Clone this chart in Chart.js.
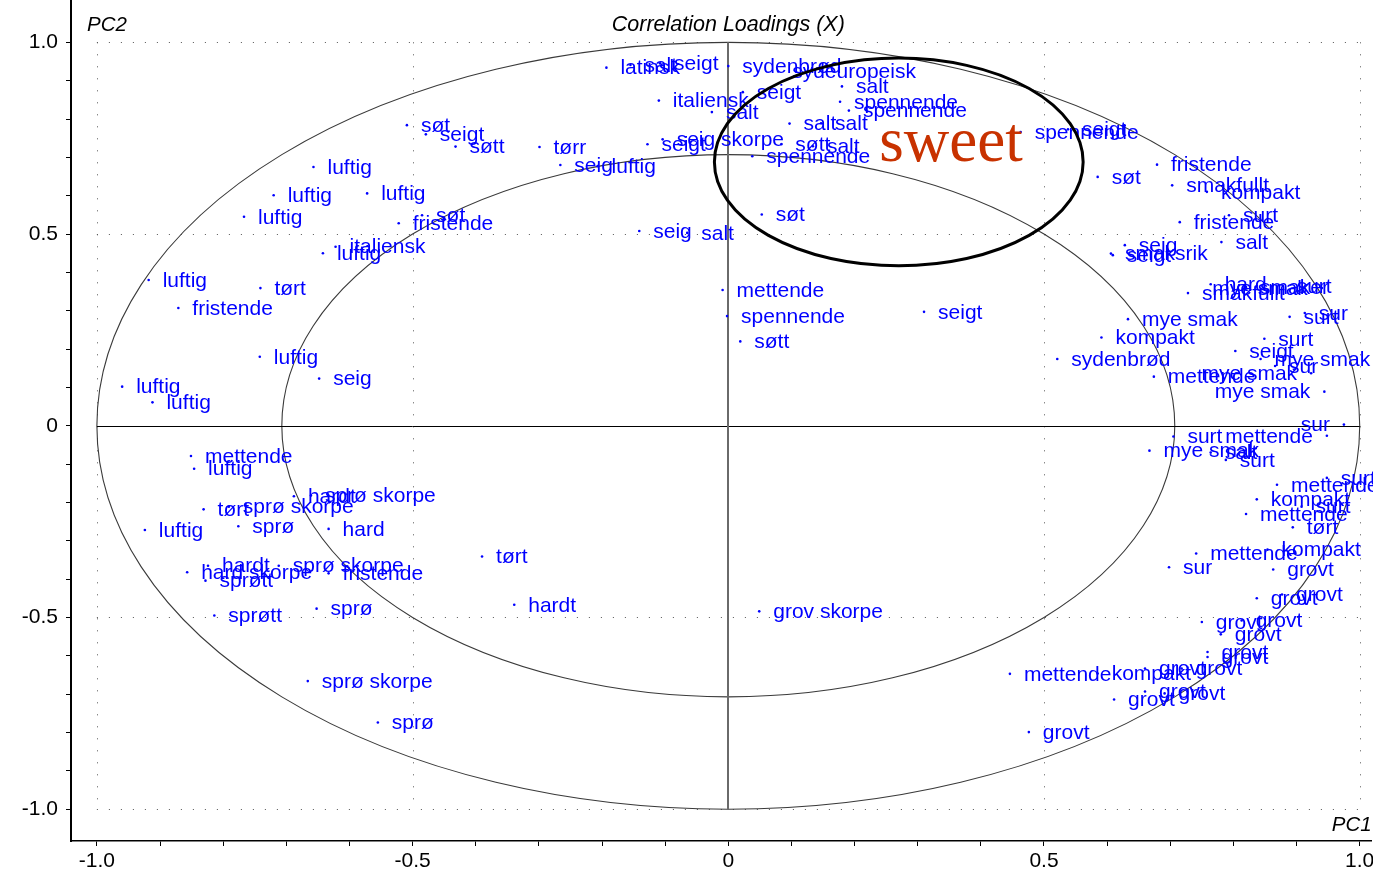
<!DOCTYPE html>
<html lang="en">
<head>
  <meta charset="UTF-8">
  <title>Correlation Loadings (X)</title>
  <script src="https://cdn.jsdelivr.net/npm/chart.js"></script>
  <style>
    body {
      margin: 0;
      background-color: #ffffff;
    }

    canvas {
      display: block;
    }
  </style>
</head>
<body>
  <canvas id="loadings" width="1373" height="873"></canvas>

  <script>
    // [term, PC1, PC2], grouped by area
    const upperLeft = [
      ['søt', -0.509, 0.784], ['seigt', -0.479, 0.760], ['søtt', -0.432, 0.728],
      ['luftig', -0.657, 0.675], ['luftig', -0.720, 0.601], ['luftig', -0.572, 0.606],
      ['luftig', -0.767, 0.545], ['søt', -0.485, 0.549], ['fristende', -0.522, 0.528],
      ['italiensk', -0.622, 0.467], ['luftig', -0.642, 0.450], ['luftig', -0.918, 0.380],
      ['tørt', -0.741, 0.359], ['fristende', -0.871, 0.307], ['luftig', -0.742, 0.180],
      ['seig', -0.648, 0.123], ['luftig', -0.960, 0.102], ['luftig', -0.912, 0.061]
    ];

    const lowerLeft = [
      ['mettende', -0.851, -0.079], ['luftig', -0.846, -0.112], ['hardt', -0.688, -0.184],
      ['sprø skorpe', -0.661, -0.182], ['tørt', -0.831, -0.218], ['sprø skorpe', -0.791, -0.211],
      ['sprø', -0.776, -0.262], ['luftig', -0.924, -0.272], ['hard', -0.633, -0.269],
      ['tørt', -0.390, -0.341], ['hard skorpe', -0.857, -0.382], ['hardt', -0.824, -0.365],
      ['sprøtt', -0.828, -0.404], ['sprø skorpe', -0.712, -0.365], ['fristende', -0.633, -0.385],
      ['sprøtt', -0.814, -0.495], ['sprø', -0.652, -0.477], ['sprø skorpe', -0.666, -0.666],
      ['sprø', -0.555, -0.774], ['hardt', -0.339, -0.467], ['grov skorpe', 0.049, -0.484]
    ];

    const middle = [
      ['mettende', -0.009, 0.354], ['spennende', -0.002, 0.286], ['søtt', 0.019, 0.220],
      ['seigt', 0.310, 0.297]
    ];

    const upperMiddle = [
      ['latinsk', -0.193, 0.934], ['salt', -0.155, 0.941], ['seigt', -0.108, 0.945],
      ['sydenbrød', 0.000, 0.938], ['sydeuropeisk', 0.079, 0.924], ['italiensk', -0.110, 0.848],
      ['salt', -0.026, 0.818], ['seigt', 0.023, 0.870], ['salt', 0.180, 0.885],
      ['spennende', 0.177, 0.845], ['spennende', 0.191, 0.822], ['salt', 0.097, 0.788],
      ['salt', 0.147, 0.789], ['tørr', -0.299, 0.727], ['seigt', -0.128, 0.734],
      ['seig skorpe', -0.104, 0.747], ['seig', -0.266, 0.680], ['luftig', -0.207, 0.677],
      ['søtt', 0.084, 0.734], ['salt', 0.134, 0.729], ['spennende', 0.038, 0.703],
      ['søt', 0.053, 0.551], ['seig', -0.141, 0.508], ['salt', -0.065, 0.503]
    ];

    const upperRight = [
      ['spennende', 0.463, 0.766], ['seigt', 0.538, 0.773], ['søt', 0.585, 0.649],
      ['fristende', 0.679, 0.681], ['smakfullt', 0.703, 0.627], ['kompakt', 0.758, 0.610],
      ['fristende', 0.715, 0.531], ['surt', 0.793, 0.549], ['salt', 0.781, 0.479],
      ['seig', 0.628, 0.471], ['smaksrik', 0.606, 0.449], ['seigt', 0.609, 0.445],
      ['hard', 0.764, 0.369], ['smakfullt', 0.728, 0.346], ['smaker', 0.820, 0.362],
      ['surt', 0.878, 0.365], ['mye smak', 0.940, 0.359], ['surt', 0.889, 0.284],
      ['sur', 0.913, 0.294], ['mye smak', 0.633, 0.278], ['kompakt', 0.591, 0.230],
      ['surt', 0.849, 0.227], ['sydenbrød', 0.521, 0.174], ['seigt', 0.803, 0.195],
      ['mye smak', 0.843, 0.174], ['sur', 0.866, 0.156], ['mettende', 0.674, 0.128],
      ['mye smak', 0.923, 0.137], ['mye smak', 0.944, 0.089], ['sur', 0.975, 0.003]
    ];

    const lowerRight = [
      ['mettende', 0.948, -0.026], ['surt', 0.705, -0.028], ['mye smak', 0.667, -0.065],
      ['salt', 0.764, -0.070], ['surt', 0.788, -0.089], ['surt', 0.948, -0.136],
      ['mettende', 0.869, -0.154], ['kompakt', 0.837, -0.192], ['surt', 0.908, -0.211],
      ['mettende', 0.820, -0.230], ['tørt', 0.894, -0.265], ['mettende', 0.741, -0.333],
      ['kompakt', 0.854, -0.323], ['sur', 0.698, -0.369], ['grovt', 0.863, -0.375],
      ['grovt', 0.837, -0.450], ['grovt', 0.877, -0.440], ['grovt', 0.750, -0.512],
      ['grovt', 0.813, -0.508], ['grovt', 0.780, -0.544], ['grovt', 0.759, -0.590],
      ['grovt', 0.759, -0.603], ['mettende', 0.446, -0.647], ['kompakt', 0.585, -0.646],
      ['grovt', 0.660, -0.633], ['grovt', 0.718, -0.633], ['grovt', 0.611, -0.714],
      ['grovt', 0.660, -0.693], ['grovt', 0.691, -0.698], ['grovt', 0.476, -0.799]
    ];

    const axisTicks = [-1.0, -0.9, -0.8, -0.7, -0.6, -0.5, -0.4, -0.3, -0.2, -0.1, 0,
      0.1, 0.2, 0.3, 0.4, 0.5, 0.6, 0.7, 0.8, 0.9, 1.0];
    const labelledTicks = [-1.0, -0.5, 0, 0.5, 1.0];
    const dottedLines = [-1.0, -0.5, 0.5, 1.0];
    const circleRadii = [1.0, 0.7071];

    // hand-drawn "sweet" highlight
    const sweetCentre = [0.270, 0.688];
    const sweetRadius = [0.292, 0.271];
    const sweetText = [0.239, 0.690];

    const loadings = [...upperLeft, ...lowerLeft, ...middle, ...upperMiddle, ...upperRight, ...lowerRight];
    const terms = loadings.map(r => r[0]);
    const points = loadings.map(r => ({ x: r[1], y: r[2] }));

    const labelFont = '21px Arial, "Liberation Sans", sans-serif';
    const tickFont = { family: 'Arial, "Liberation Sans", sans-serif', size: 21 };

    function tickLabel(v) {
      if (!labelledTicks.includes(v)) return '';
      return v === 0 ? '0' : v.toFixed(1);
    }

    const backdrop = {
      id: 'backdrop',
      beforeDatasetsDraw(chart) {
        const { ctx, scales: { x, y } } = chart;
        const px = v => x.getPixelForValue(v);
        const py = v => y.getPixelForValue(v);
        ctx.save();

        // dotted grid inside the unit square
        ctx.strokeStyle = '#555';
        ctx.lineWidth = 1;
        ctx.setLineDash([1, 11]);
        dottedLines.forEach(v => {
          ctx.beginPath();
          ctx.moveTo(Math.round(px(v)) + 0.5, py(1));
          ctx.lineTo(Math.round(px(v)) + 0.5, py(-1));
          ctx.moveTo(px(-1), Math.round(py(v)) + 0.5);
          ctx.lineTo(px(1), Math.round(py(v)) + 0.5);
          ctx.stroke();
        });
        ctx.setLineDash([]);

        // correlation circles
        ctx.strokeStyle = '#3a3a3a';
        ctx.lineWidth = 1.1;
        circleRadii.forEach(r => {
          ctx.beginPath();
          ctx.ellipse(px(0), py(0), px(r) - px(0), py(0) - py(r), 0, 0, Math.PI * 2);
          ctx.stroke();
        });

        // zero lines
        ctx.strokeStyle = '#000';
        ctx.lineWidth = 1;
        ctx.beginPath();
        ctx.moveTo(px(-1), Math.round(py(0)) + 0.5);
        ctx.lineTo(px(1), Math.round(py(0)) + 0.5);
        ctx.stroke();
        ctx.strokeStyle = '#6a6a6a';
        ctx.lineWidth = 2;
        ctx.beginPath();
        ctx.moveTo(Math.round(px(0)), py(1));
        ctx.lineTo(Math.round(px(0)), py(-1));
        ctx.stroke();

        // captions
        ctx.fillStyle = '#000';
        ctx.textBaseline = 'middle';
        ctx.font = 'italic 21.5px Arial, "Liberation Sans", sans-serif';
        ctx.textAlign = 'center';
        ctx.fillText('Correlation Loadings (X)', px(0), chart.chartArea.top + 24);
        ctx.font = 'italic 20.5px Arial, "Liberation Sans", sans-serif';
        ctx.textAlign = 'left';
        ctx.fillText('PC2', chart.chartArea.left + 16, chart.chartArea.top + 24);
        ctx.textAlign = 'right';
        ctx.fillText('PC1', chart.chartArea.right, chart.chartArea.bottom - 16);
        ctx.restore();
      },
      afterDatasetsDraw(chart) {
        const { ctx, scales: { x, y } } = chart;
        const meta = chart.getDatasetMeta(0);
        ctx.save();
        ctx.font = labelFont;
        ctx.fillStyle = '#0000ff';
        ctx.textBaseline = 'middle';
        meta.data.forEach((pt, i) => {
          const w = ctx.measureText(terms[i]).width;
          if (pt.x + 14 + w > chart.chartArea.right + 12) {
            ctx.textAlign = 'right';
            ctx.fillText(terms[i], pt.x - 14, pt.y + 1);
          } else {
            ctx.textAlign = 'left';
            ctx.fillText(terms[i], pt.x + 14, pt.y + 1);
          }
        });

        // highlight ring and word
        const cx = x.getPixelForValue(sweetCentre[0]);
        const cy = y.getPixelForValue(sweetCentre[1]);
        ctx.strokeStyle = '#000';
        ctx.lineWidth = 3;
        ctx.beginPath();
        ctx.ellipse(cx, cy,
          x.getPixelForValue(sweetCentre[0] + sweetRadius[0]) - cx,
          cy - y.getPixelForValue(sweetCentre[1] + sweetRadius[1]), 0, 0, Math.PI * 2);
        ctx.stroke();
        ctx.font = '63px "Times New Roman", "Liberation Serif", serif';
        ctx.fillStyle = '#c83200';
        ctx.textAlign = 'left';
        ctx.textBaseline = 'alphabetic';
        ctx.fillText('sweet', x.getPixelForValue(sweetText[0]), y.getPixelForValue(sweetText[1]));
        ctx.restore();
      }
    };

    const ctx = document.getElementById('loadings').getContext('2d');

    new Chart(ctx, {
      type: 'scatter',
      data: {
        datasets: [{
          label: 'X loadings',
          data: points,
          backgroundColor: '#0000ff',
          borderWidth: 0,
          pointRadius: 1.3,
          pointHoverRadius: 1.3,
          clip: false,
        }],
      },
      options: {
        responsive: false,
        animation: false,
        events: [],
        layout: { padding: 0 },
        plugins: {
          legend: { display: false },
          tooltip: { enabled: false },
        },
        scales: {
          x: {
            type: 'linear',
            position: 'bottom',
            min: -1.041,
            max: 1.019,
            afterBuildTicks: axis => { axis.ticks = axisTicks.map(v => ({ value: v })); },
            afterFit: axis => { axis.height = 32; axis.paddingLeft = 0; axis.paddingRight = 0; },
            ticks: {
              autoSkip: false,
              maxRotation: 0,
              padding: 3,
              color: '#000',
              font: tickFont,
              callback: v => tickLabel(v),
            },
            grid: { drawOnChartArea: false, drawTicks: true, tickLength: 5, color: '#000' },
            border: { display: true, color: '#000', width: 1.5 },
          },
          y: {
            type: 'linear',
            min: -1.083,
            max: 1.107,
            afterBuildTicks: axis => { axis.ticks = axisTicks.map(v => ({ value: v })); },
            afterFit: axis => { axis.width = 71; axis.paddingTop = 0; axis.paddingBottom = 0; },
            ticks: {
              autoSkip: false,
              padding: 8,
              color: '#000',
              font: tickFont,
              callback: v => tickLabel(v),
            },
            grid: { drawOnChartArea: false, drawTicks: true, tickLength: 5, color: '#000' },
            border: { display: true, color: '#000', width: 2 },
          },
        },
      },
      plugins: [backdrop],
    });
  </script>
</body>
</html>
